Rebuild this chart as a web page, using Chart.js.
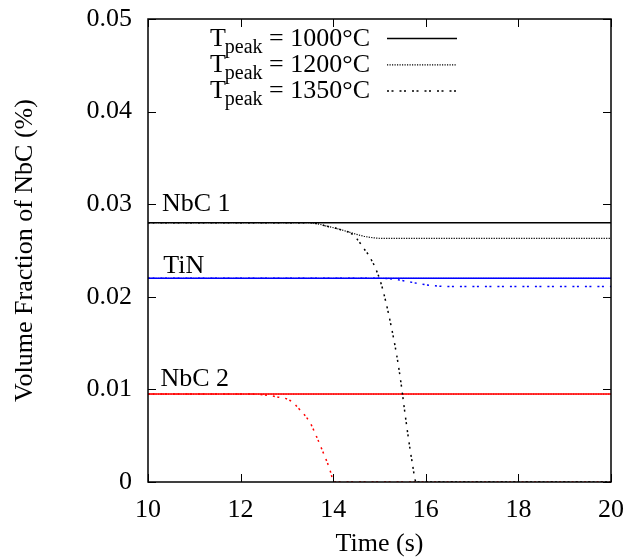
<!DOCTYPE html>
<html><head><meta charset="utf-8">
<script src="https://cdn.jsdelivr.net/npm/chart.js@4/dist/chart.umd.min.js"></script>
<style>html,body{margin:0;padding:0;background:#fff}#wrap{width:631px;height:560px}</style>
</head><body><div id="wrap"><canvas id="c"></canvas></div>
<script>
// ---- data ----
const xTicks = [10, 12, 14, 16, 18, 20];
const yTicks = [0, 0.01, 0.02, 0.03, 0.04, 0.05];
const legendLabels = ["1000°C", "1200°C", "1350°C"];
const phaseLabels = ["NbC 1", "TiN", "NbC 2"];

const nbc1_1000_t = [10, 20];
const nbc1_1000_v = [0.028, 0.028];
const nbc1_1200_t = [10, 13.5, 13.86, 14.15, 14.4, 14.55, 14.7, 14.9, 15.1, 20];
const nbc1_1200_v = [0.028, 0.028, 0.02763, 0.02727, 0.0269, 0.02668, 0.0265, 0.02636, 0.0263, 0.0263];
const nbc1_1350_t = [10, 13.5, 13.86, 14.15, 14.4, 14.52, 14.65, 14.79, 14.92, 15.03, 15.13, 15.26, 15.37, 15.46, 15.54, 15.62, 15.71, 15.79, 20];
const nbc1_1350_v = [0.028, 0.028, 0.02763, 0.02727, 0.0268, 0.0262, 0.0253, 0.0243, 0.0230, 0.0215, 0.0196, 0.01663, 0.01374, 0.01085, 0.0078, 0.0049, 0.002, 0, 0];

const tin_1000_t = [10, 20];
const tin_1000_v = [0.022, 0.022];
const tin_1200_t = [10, 20];
const tin_1200_v = [0.022, 0.022];
const tin_1350_t = [10, 15.0, 15.3, 15.59, 15.87, 16.16, 16.5, 20];
const tin_1350_v = [0.022, 0.022, 0.0219, 0.02167, 0.0214, 0.0212, 0.0211, 0.0211];

const nbc2_1000_t = [10, 20];
const nbc2_1000_v = [0.0095, 0.0095];
const nbc2_1200_t = [10, 20];
const nbc2_1200_v = [0.0095, 0.0095];
const nbc2_1350_t = [10, 12.2, 12.5, 12.78, 13.07, 13.28, 13.5, 13.64, 13.79, 13.93, 13.99, 14.0, 20];
const nbc2_1350_v = [0.0095, 0.0095, 0.0094, 0.0092, 0.0088, 0.0078, 0.0064, 0.0049, 0.0031, 0.0013, 0.0002, 0, 0];

// ---- build ----
const SERIF = '"Liberation Serif", "Times New Roman", serif';
const FS = 26;
const styles = {
  s1000: { borderDash: [], borderWidth: 1.5 },
  s1200: { borderDash: [1.2, 1.3], borderWidth: 1.2 },
  s1350: { borderDash: [2, 2.5, 2, 6], borderWidth: 1.5 }
};
function pts(t, v) { return t.map((x, i) => ({ x: x, y: v[i] })); }
function ds(t, v, color, st) {
  return Object.assign({ data: pts(t, v), borderColor: color, backgroundColor: color,
    pointRadius: 0, fill: false, cubicInterpolationMode: 'monotone' }, styles[st]);
}
const datasets = [
  ds(nbc1_1200_t, nbc1_1200_v, '#000', 's1200'),
  ds(nbc1_1350_t, nbc1_1350_v, '#000', 's1350'),
  ds(nbc1_1000_t, nbc1_1000_v, '#000', 's1000'),
  ds(tin_1200_t, tin_1200_v, '#0000ff', 's1200'),
  ds(tin_1350_t, tin_1350_v, '#0000ff', 's1350'),
  ds(tin_1000_t, tin_1000_v, '#0000ff', 's1000'),
  ds(nbc2_1200_t, nbc2_1200_v, '#ff0000', 's1200'),
  ds(nbc2_1350_t, nbc2_1350_v, '#ff0000', 's1350'),
  ds(nbc2_1000_t, nbc2_1000_v, '#ff0000', 's1000')
];

const framePlugin = {
  id: 'frame',
  afterDraw(chart) {
    const ctx = chart.ctx, a = chart.chartArea;
    const xs = chart.scales.x, ys = chart.scales.y;
    ctx.save();
    ctx.strokeStyle = '#000'; ctx.lineWidth = 1.5;
    ctx.strokeRect(a.left, a.top, a.right - a.left, a.bottom - a.top);
    ctx.lineWidth = 1;
    const L = 8;
    ctx.beginPath();
    xTicks.forEach(v => {
      const p = Math.round(xs.getPixelForValue(v)) + 0.5;
      ctx.moveTo(p, a.bottom); ctx.lineTo(p, a.bottom - L);
      ctx.moveTo(p, a.top); ctx.lineTo(p, a.top + L);
    });
    yTicks.forEach(v => {
      const p = Math.round(ys.getPixelForValue(v)) + 0.5;
      ctx.moveTo(a.left, p); ctx.lineTo(a.left + L, p);
      ctx.moveTo(a.right, p); ctx.lineTo(a.right - L, p);
    });
    ctx.stroke();

    // phase labels
    ctx.fillStyle = '#000';
    ctx.font = FS + 'px ' + SERIF;
    ctx.textBaseline = 'alphabetic';
    ctx.textAlign = 'left';
    const lp = [[10.3, 0.02925], [10.33, 0.02259], [10.27, 0.01039]];
    phaseLabels.forEach((s, i) => {
      ctx.fillText(s, xs.getPixelForValue(lp[i][0]), ys.getPixelForValue(lp[i][1]));
    });

    // legend
    const keys = ['s1000', 's1200', 's1350'];
    legendLabels.forEach((lab, i) => {
      const ly = a.top + 19.5 + i * 26.3;
      const right = a.left + 222;
      ctx.font = FS + 'px ' + SERIF;
      const rest = ' = ' + lab;
      const wT = ctx.measureText('T').width, wR = ctx.measureText(rest).width;
      ctx.font = '20px ' + SERIF;
      const wP = ctx.measureText('peak').width;
      let x0 = right - wR - wP - wT + 1;
      ctx.font = FS + 'px ' + SERIF;
      ctx.fillText('T', x0, ly + 7);
      ctx.font = '20px ' + SERIF;
      ctx.fillText('peak', x0 + wT - 1, ly + 14);
      ctx.font = FS + 'px ' + SERIF;
      ctx.fillText(rest, x0 + wT - 1 + wP, ly + 7);
      const st = styles[keys[i]];
      ctx.beginPath();
      ctx.setLineDash(st.borderDash);
      ctx.lineWidth = st.borderWidth;
      ctx.strokeStyle = '#000';
      ctx.moveTo(a.left + 239, ly); ctx.lineTo(a.left + 309, ly);
      ctx.stroke();
      ctx.setLineDash([]);
    });
    ctx.restore();
  }
};

new Chart(document.getElementById('c'), {
  type: 'line',
  data: { datasets: datasets },
  options: {
    responsive: true, maintainAspectRatio: false, animation: false,
    layout: { padding: { top: 19, right: 20, left: 0, bottom: 0 } },
    plugins: { legend: { display: false }, tooltip: { enabled: false } },
    scales: {
      x: {
        type: 'linear', min: 10, max: 20,
        afterBuildTicks: s => { s.ticks = xTicks.map(v => ({ value: v })); },
        afterFit: s => { s.height = 78; s.paddingLeft = 0; s.paddingRight = 0; },
        ticks: { color: '#000', font: { family: SERIF, size: FS }, padding: 13, maxRotation: 0 },
        grid: { display: false, drawTicks: false },
        border: { display: false },
        title: { display: true, text: 'Time (s)', color: '#000', font: { family: SERIF, size: FS }, padding: { top: 1, bottom: 0 } }
      },
      y: {
        type: 'linear', min: 0, max: 0.05,
        afterBuildTicks: s => { s.ticks = yTicks.map(v => ({ value: v })); },
        afterFit: s => { s.width = 148; s.paddingTop = 0; s.paddingBottom = 0; },
        ticks: { color: '#000', font: { family: SERIF, size: FS }, padding: 16,
          callback: v => (v === 0 ? '0' : v.toFixed(2)) },
        grid: { display: false, drawTicks: false },
        border: { display: false },
        title: { display: true, text: 'Volume Fraction of NbC (%)', color: '#000', font: { family: SERIF, size: FS }, padding: { top: 10, bottom: 0 } }
      }
    }
  },
  plugins: [framePlugin]
});
</script></body></html>
